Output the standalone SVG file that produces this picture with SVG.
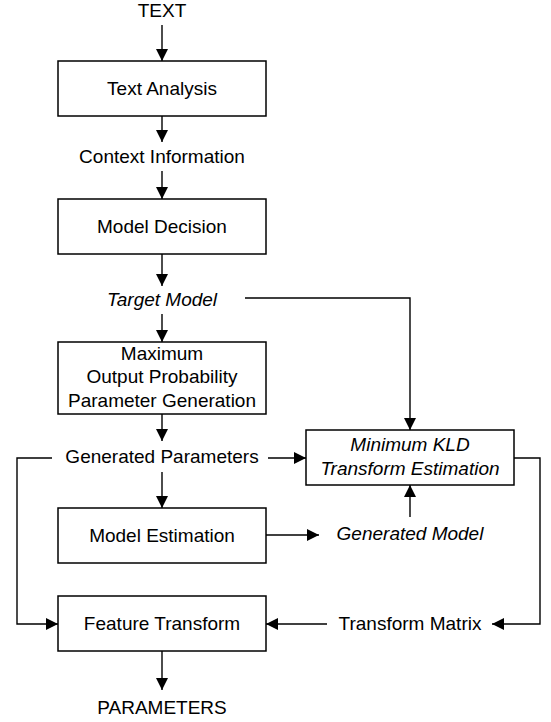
<svg xmlns="http://www.w3.org/2000/svg" width="551" height="722" viewBox="0 0 551 722">
<style>
  .box{fill:#fff;stroke:#000;stroke-width:1.5}
  .t{font-family:"Liberation Sans",Arial,sans-serif;font-size:19px;fill:#000;text-anchor:middle}
  .i{font-style:italic}
  .c{fill:none;stroke:#000;stroke-width:1.4}
</style>
<defs>
  <marker id="ah" markerUnits="userSpaceOnUse" markerWidth="12" markerHeight="12" viewBox="0 0 12 12" refX="12" refY="6" orient="auto">
    <path d="M0,0 L12,6 L0,12 Z" fill="#000"/>
  </marker>
</defs>
<rect width="551" height="722" fill="#fff"/>
<g id="connectors">
  <line class="c" x1="162" y1="25" x2="162" y2="61" marker-end="url(#ah)"/>
  <line class="c" x1="162" y1="116" x2="162" y2="142" marker-end="url(#ah)"/>
  <line class="c" x1="162" y1="171" x2="162" y2="199" marker-end="url(#ah)"/>
  <line class="c" x1="162" y1="254" x2="162" y2="286" marker-end="url(#ah)"/>
  <line class="c" x1="162" y1="314" x2="162" y2="342" marker-end="url(#ah)"/>
  <polyline class="c" points="245,298 410,298 410,430" marker-end="url(#ah)"/>
  <line class="c" x1="162" y1="414" x2="162" y2="441" marker-end="url(#ah)"/>
  <polyline class="c" points="52,458 17,458 17,624 58,624" marker-end="url(#ah)"/>
  <line class="c" x1="268" y1="458" x2="306" y2="458" marker-end="url(#ah)"/>
  <line class="c" x1="162" y1="472" x2="162" y2="508" marker-end="url(#ah)"/>
  <line class="c" x1="266" y1="535" x2="319" y2="535" marker-end="url(#ah)"/>
  <line class="c" x1="410" y1="517" x2="410" y2="485" marker-end="url(#ah)"/>
  <polyline class="c" points="514,458 540,458 540,624 492,624" marker-end="url(#ah)"/>
  <line class="c" x1="327" y1="624" x2="266" y2="624" marker-end="url(#ah)"/>
  <line class="c" x1="162" y1="651" x2="162" y2="690" marker-end="url(#ah)"/>
</g>
<g id="text-in"><text class="t" x="162" y="17">TEXT</text></g>
<g id="text-analysis"><rect class="box" x="58" y="61" width="208" height="55"/><text class="t" x="162" y="95">Text Analysis</text></g>
<g id="context-info"><text class="t" x="162" y="163">Context Information</text></g>
<g id="model-decision"><rect class="box" x="58" y="199" width="208" height="55"/><text class="t" x="162" y="233">Model Decision</text></g>
<g id="target-model"><text class="t i" x="162" y="306">Target Model</text></g>
<g id="mopg"><rect class="box" x="58" y="342" width="208" height="72"/><text class="t" x="162" y="360">Maximum</text><text class="t" x="162" y="383">Output Probability</text><text class="t" x="162" y="407">Parameter Generation</text></g>
<g id="generated-params"><text class="t" x="162" y="463">Generated Parameters</text></g>
<g id="kld"><rect class="box" x="306" y="430" width="208" height="55"/><text class="t i" x="410" y="451">Minimum KLD</text><text class="t i" x="410" y="475">Transform Estimation</text></g>
<g id="model-estimation"><rect class="box" x="58" y="508" width="208" height="55"/><text class="t" x="162" y="542">Model Estimation</text></g>
<g id="generated-model"><text class="t i" x="410" y="540">Generated Model</text></g>
<g id="feature-transform"><rect class="box" x="58" y="596" width="208" height="55"/><text class="t" x="162" y="630">Feature Transform</text></g>
<g id="transform-matrix"><text class="t" x="410" y="630">Transform Matrix</text></g>
<g id="params-out"><text class="t" x="162" y="714">PARAMETERS</text></g>
</svg>
